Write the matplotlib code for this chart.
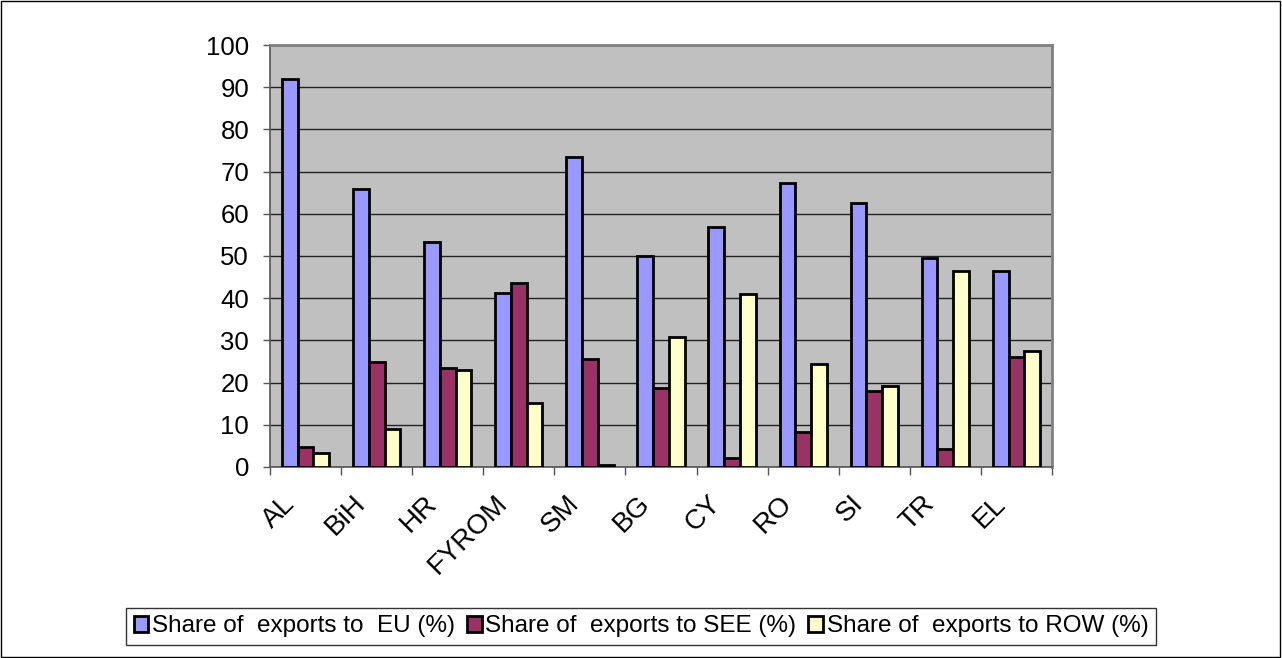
import matplotlib
matplotlib.use("Agg")
import matplotlib.pyplot as plt
import matplotlib.transforms as mtransforms
import numpy as np
from matplotlib.patches import Rectangle

countries = ["AL", "BiH", "HR", "FYROM", "SM", "BG", "CY", "RO", "SI", "TR", "EL"]
eu = [92.0, 65.8, 53.3, 41.3, 73.5, 50.1, 56.9, 67.2, 62.6, 49.5, 46.4]
see = [4.8, 24.9, 23.5, 43.5, 25.7, 18.8, 2.2, 8.4, 18.0, 4.2, 26.1]
row = [3.2, 9.0, 23.0, 15.1, 0.5, 30.9, 40.9, 24.4, 19.3, 46.4, 27.6]
labels = ["Share of  exports to  EU (%)", "Share of  exports to SEE (%)",
          "Share of  exports to ROW (%)"]
colors = ["#9999FF", "#993366", "#FFFFCC"]

plt.rcParams['font.family'] = ['Liberation Sans', 'DejaVu Sans']

fig = plt.figure(figsize=(12.82, 6.58), dpi=100)
ax = fig.add_axes([0.2106, 0.2903, 0.61, 0.6413])
ax.set_facecolor("#C0C0C0")

x = np.arange(len(countries))
w = 0.222
for i, (vals, c, lab) in enumerate(zip([eu, see, row], colors, labels)):
    ax.bar(x + (i - 1) * w, vals, w, color=c, edgecolor="black", linewidth=2,
           label=lab, zorder=3)

ax.set_xlim(-0.5, len(countries) - 0.5)
ax.set_ylim(0, 100)
ax.set_yticks(range(0, 101, 10))
ax.yaxis.grid(True, color="#222222", linewidth=1.0, zorder=0)
ax.tick_params(axis="y", labelsize=18.5, length=5, color="#555555", width=1, pad=10)

ax.set_xticks(x)
ax.set_xticklabels(countries, rotation=45, ha="right", rotation_mode="anchor",
                   fontsize=20)
ax.set_xticks(np.arange(-0.5, len(countries)), minor=True)
ax.tick_params(axis="x", which="major", length=0, pad=17)
ax.tick_params(axis="x", which="minor", length=6, color="#555555", width=1)
shift = mtransforms.ScaledTranslation(-24 / 100, 0, fig.dpi_scale_trans)
for t in ax.get_xticklabels():
    t.set_transform(t.get_transform() + shift)

for side in ["top", "right"]:
    ax.spines[side].set_color("#808080")
    ax.spines[side].set_linewidth(2)
for side in ["left", "bottom"]:
    ax.spines[side].set_color("#555555")
    ax.spines[side].set_linewidth(1.2)

leg = fig.legend(loc="center", bbox_to_anchor=(0.5, 0.048), ncol=3,
                 frameon=True, fancybox=False, edgecolor="black",
                 prop={"family": ["Liberation Sans Narrow", "Liberation Sans"], "size": 17.5},
                 handlelength=0.6, handleheight=0.6,
                 handletextpad=0.15, columnspacing=0.5, borderpad=0.3)
leg.get_frame().set_linewidth(1.0)
for h in leg.legend_handles:
    h.set_linewidth(2)

fig.patches.append(Rectangle((0.0005, 0.001), 0.998, 0.997, transform=fig.transFigure,
                             fill=False, edgecolor="black", linewidth=1))

fig.savefig("out.png", dpi=100)
